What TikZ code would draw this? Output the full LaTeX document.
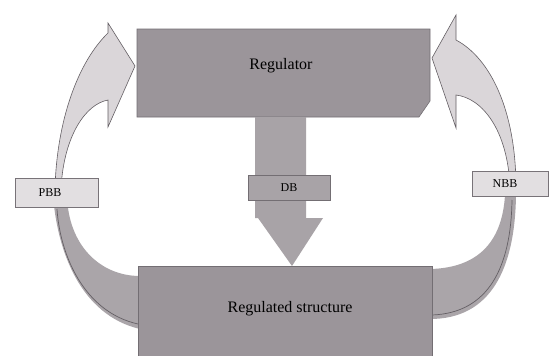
\documentclass[tikz,border=0pt]{standalone}
\usepackage{fontspec}
\setmainfont{Liberation Serif}
\begin{document}
\begin{tikzpicture}[x=1pt,y=-1pt,
  bigbox/.style={fill=boxgray,draw=boxedge,line width=0.6pt},
  lightarrow/.style={fill=lightgray2,draw=bandedge,line width=0.6pt},
  tag/.style={fill=taggray,draw=tagedge,line width=0.8pt},
  bigtext/.style={font=\fontsize{16}{18}\selectfont,text=black},
  smalltext/.style={font=\fontsize{12}{14}\selectfont,text=black}]
\definecolor{boxgray}{RGB}{155,149,154}
\definecolor{boxedge}{RGB}{115,110,115}
\definecolor{bandgray}{RGB}{170,165,169}
\definecolor{bandedge}{RGB}{100,95,100}
\definecolor{lightgray2}{RGB}{218,214,217}
\definecolor{taggray}{RGB}{226,223,225}
\definecolor{tagedge}{RGB}{120,115,120}
\definecolor{dbgray}{RGB}{168,163,167}
\useasboundingbox (0,0) rectangle (549,356);
\fill[white] (0,0) rectangle (549,356);

% lower curved bands
\fill[bandgray] (53,195) .. controls (57,250) and (80,315) .. (140,329)
  -- (140,276) .. controls (100,276) and (68,245) .. (67,195) -- cycle;
\draw[bandedge,line width=0.7pt] (57,209) .. controls (60,255) and (84,312) .. (138,324);
\fill[bandgray] (516,195) .. controls (515,270) and (490,319) .. (430,319)
  -- (430,269) .. controls (475,268) and (502,245) .. (505,195) -- cycle;
\draw[bandedge,line width=0.7pt] (512,200) .. controls (511,268) and (488,313) .. (432,315);

% upper light curved arrows
\path[lightarrow] (55,188) .. controls (57,120) and (78,62) .. (108,33)
  -- (108,23) -- (135,66) -- (108,127) -- (108,100)
  .. controls (86,104) and (64,135) .. (61,188) -- cycle;
\path[lightarrow] (516,188) .. controls (516,110) and (490,58) .. (456,40)
  -- (456,15) -- (432,58) -- (456,128) -- (456,95)
  .. controls (482,98) and (508,130) .. (510,188) -- cycle;

% regulator box
\path[bigbox] (137,29) -- (430,29) -- (430,101) -- (419,117) -- (137,117) -- cycle;
\node[bigtext] (reg) at (281,66) {Regulator};

% regulated structure box
\path[bigbox] (138,266) rectangle (432,357);
\node[bigtext] (rs) at (290,309) {Regulated structure};

% DB arrow
\path[fill=dbgray] (255,117) -- (306,117) -- (306,218) -- (323,218) -- (292,266)
  -- (258,218) -- (255,218) -- cycle;

% tags
\node[tag,fill=dbgray,draw=boxedge,minimum width=82pt,minimum height=25pt,inner sep=0pt,smalltext] (db) at (289,187.5) {DB};
\node[tag,minimum width=83pt,minimum height=29pt,inner sep=0pt] (pbbbox) at (56.5,192.5) {};
\node[smalltext] (pbb) at (50,193) {PBB};
\node[tag,minimum width=76pt,minimum height=25pt,inner sep=0pt] (nbbbox) at (510,183.5) {};
\node[smalltext] (nbb) at (505,184) {NBB};
\end{tikzpicture}
\end{document}
